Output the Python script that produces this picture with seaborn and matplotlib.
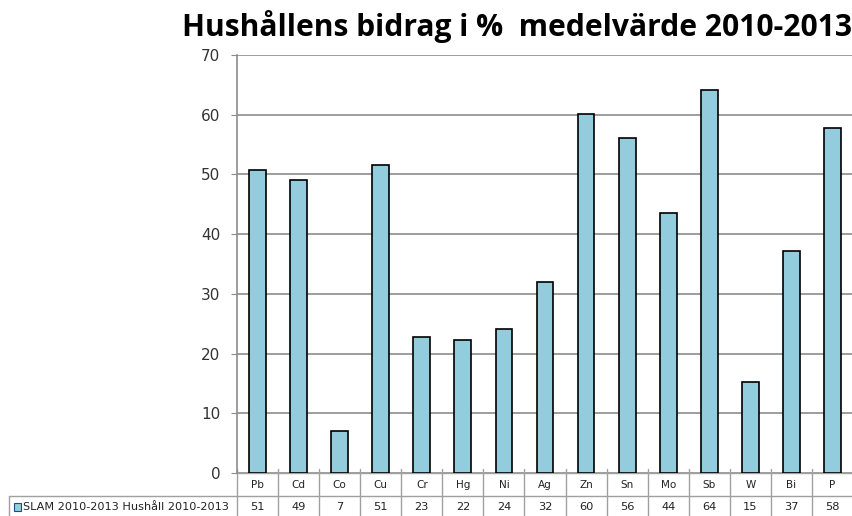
import numpy as np
import pandas as pd
import seaborn as sns
import matplotlib.pyplot as plt
import matplotlib.transforms as mtransforms
from matplotlib.patches import Rectangle

# data
metals = ["Pb", "Cd", "Co", "Cu", "Cr", "Hg", "Ni", "Ag", "Zn", "Sn", "Mo", "Sb", "W", "Bi", "P"]
share = [50.8, 49.1, 7.1, 51.5, 22.8, 22.3, 24.1, 32.0, 60.1, 56.1, 43.5, 64.1, 15.3, 37.2, 57.8]
table_vals = ["51", "49", "7", "51", "23", "22", "24", "32", "60", "56", "44", "64", "15", "37", "58"]
series_name = "SLAM 2010-2013 Hushåll 2010-2013"
title = "Hushållens bidrag i %  medelvärde 2010-2013"

df = pd.DataFrame({"metal": metals, "share": share})

sns.set_style("white")
plt.rcParams["font.family"] = ["DejaVu Sans"]

fig = plt.figure(figsize=(8.53, 5.16), dpi=100)
ax = fig.add_axes([237 / 853, 1 - 473 / 516, 616 / 853, 418 / 516])

bar_col = "#93CDDD"
grid_col = "#8c8c8c"
sns.barplot(data=df, x="metal", y="share", color=bar_col, saturation=1,
            width=0.41, edgecolor="black", linewidth=1.2, ax=ax, zorder=3)

n = len(metals)
ax.set_ylim(0, 70)
ax.set_xlim(-0.5, n - 0.5)
ax.set_yticks(range(0, 71, 10))
ax.yaxis.grid(True, color=grid_col, linewidth=1.2, zorder=0)
ax.set_xticks([])
ax.tick_params(axis="y", length=4, direction="out", color=grid_col, labelsize=11,
               labelcolor="#333333", left=True, pad=8)
ax.set_xlabel("")
ax.set_ylabel("")
for s in ["top", "right", "bottom"]:
    ax.spines[s].set_visible(False)
ax.spines["left"].set_color(grid_col)
ax.spines["left"].set_linewidth(1.2)

# data table under the axis (x in data units, y in axes units)
tr = mtransforms.blended_transform_factory(ax.transData, ax.transAxes)
px = 1 / 418  # one pixel in axes-y units
y_top, y_mid, y_bot = 0.0, -23 * px, -46 * px
x_lab = -0.5 - (237 - 9) / 41.07  # left edge of row label cell in data units
line_kw = dict(color="#a0a0a0", linewidth=1.0, transform=tr, clip_on=False)

# vertical lines at category boundaries, with a short tick above the axis
for i in range(n + 1):
    ax.plot([i - 0.5, i - 0.5], [y_bot, 4 * px], **line_kw)
ax.plot([-0.5, n - 0.5], [y_top, y_top], **line_kw)
ax.plot([x_lab, n - 0.5], [y_mid, y_mid], **line_kw)
ax.plot([x_lab, x_lab], [y_mid, y_bot], **line_kw)

row1 = -11.5 * px
row2 = -34 * px
for i, (m, v) in enumerate(zip(metals, table_vals)):
    ax.text(i, row1, m, ha="center", va="center", fontsize=7.5,
            color="#222222", transform=tr)
    ax.text(i, row2, v, ha="center", va="center", fontsize=8.2,
            color="#222222", transform=tr)

ax.text(x_lab + 0.34, row2, series_name, ha="left", va="center",
        fontsize=8.1, color="#222222", transform=tr)
ax.add_patch(Rectangle((x_lab + 0.12, row2 - 4 * px), 0.17, 8 * px,
                       transform=tr, facecolor=bar_col, edgecolor="#1f4e79",
                       linewidth=0.8, clip_on=False))

fig.text(1 - 1 / 853, 1 - 36 / 516, title, ha="right", va="baseline",
         fontsize=21.6, fontweight="bold", color="black", family=["Open Sans", "DejaVu Sans"])

fig.savefig("out.png", dpi=100)
